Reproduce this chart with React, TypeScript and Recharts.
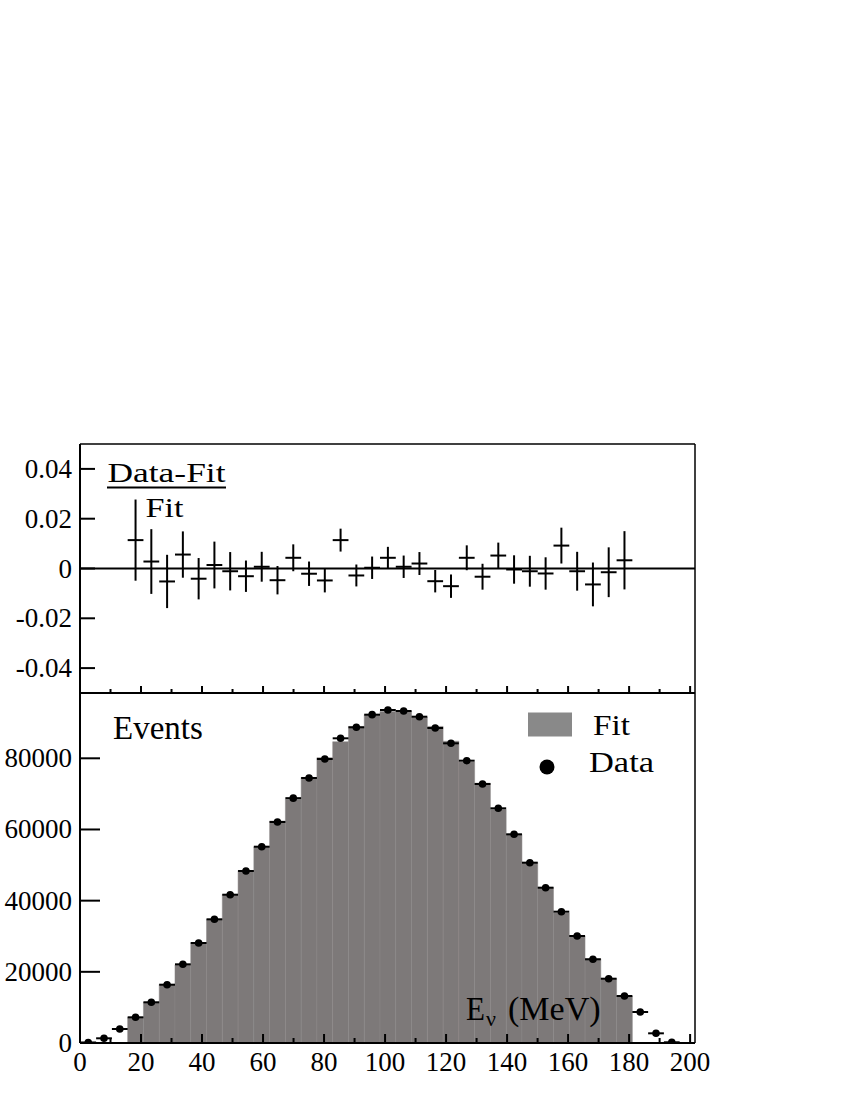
import React from 'react';
import {
  ComposedChart,
  XAxis,
  YAxis,
  Scatter,
  ErrorBar,
  ReferenceArea,
  ReferenceLine,
} from 'recharts';

// ---------- data ----------
// bin centres (MeV)
const binCenters = [
  2.7, 7.87, 13.04, 18.21, 23.38, 28.55, 33.72, 38.89, 44.06, 49.23,
  54.4, 59.57, 64.74, 69.91, 75.08, 80.25, 85.42, 90.59, 95.76, 100.93,
  106.1, 111.27, 116.44, 121.61, 126.78, 131.95, 137.12, 142.29, 147.46, 152.63,
  157.8, 162.97, 168.14, 173.31, 178.48, 183.65, 188.82, 193.99,
];
const BIN_HALF = 2.585;

// measured events per bin (Data)
const dataCounts = [
  150, 1320, 3930, 7220, 11440, 16380, 22110, 28100, 34760, 41670,
  48330, 55160, 62100, 68800, 74470, 79800, 85620, 88710, 92260, 93570,
  93290, 91690, 88520, 84210, 79330, 72780, 65950, 58640, 50670, 43640,
  36900, 30070, 23520, 18070, 13210, 8710, 2720, 200,
];

// fit histogram covers bins 3..34
const FIT_FIRST_BIN = 3;
const fitCounts = [
  7139, 11408, 16466, 21987, 28216, 34711, 41716, 48480, 55121, 62393,
  68505, 74627, 80185, 84655, 88959, 92232, 93169, 93225, 91507, 88969,
  84812, 78990, 73021, 65609, 58663, 50726, 43727, 36564, 30103, 23671,
  18097, 13167,
];

// (Data-Fit)/Fit residuals and their errors, bins 3..34
const residuals = [
  0.0114, 0.0028, -0.0052, 0.0056, -0.0041, 0.0014, -0.0011, -0.0031, 0.0007, -0.0047,
  0.0043, -0.0021, -0.0048, 0.0114, -0.0028, 0.0003, 0.0043, 0.0007, 0.002, -0.0051,
  -0.0071, 0.0043, -0.0033, 0.0052, -0.0004, -0.0011, -0.002, 0.0092, -0.0011, -0.0064,
  -0.0015, 0.0033,
];
const residualErrors = [
  0.0163, 0.013, 0.0107, 0.0093, 0.0083, 0.0094, 0.0077, 0.0063, 0.006, 0.0057,
  0.0054, 0.0049, 0.0048, 0.0046, 0.0044, 0.0045, 0.0044, 0.0045, 0.0046, 0.0045,
  0.0047, 0.005, 0.0052, 0.0052, 0.0057, 0.0062, 0.0065, 0.0072, 0.0078, 0.0088,
  0.01, 0.0117,
];

const xTicks = [0, 10, 20, 30, 40, 50, 60, 70, 80, 90, 100, 110, 120, 130, 140, 150, 160, 170, 180, 190, 200];
const residualTicks = [-0.04, -0.02, 0, 0.02, 0.04];
const countTicks = [0, 20000, 40000, 60000, 80000];

const X_MAX = 201.6;
const RES_MIN = -0.05;
const RES_MAX = 0.05;
const COUNT_MAX = 98350;

// ---------- derived tables ----------
const dataPoints = binCenters.map((x, i) => ({ x, y: dataCounts[i], xerr: BIN_HALF }));
const residualPoints = residuals.map((r, i) => ({
  x: binCenters[i + FIT_FIRST_BIN],
  y: r,
  xerr: BIN_HALF,
  yerr: residualErrors[i],
}));
const fitBins = fitCounts.map((v, i) => ({
  x1: binCenters[i + FIT_FIRST_BIN] - BIN_HALF,
  x2: binCenters[i + FIT_FIRST_BIN] + BIN_HALF,
  y: v,
}));

const FONT = "'Liberation Serif', 'Times New Roman', serif";
const TICK_FONT = 27;
const HIST_FILL = '#7d7979';
const LEGEND_FILL = '#898989';

// ---------- custom ticks ----------
const BottomXTick = (props: any) => {
  const { x, y, payload } = props;
  const v = payload.value;
  const major = v % 20 === 0;
  return (
    <g>
      <line x1={x} x2={x} y1={y} y2={y - (major ? 9 : 5)} stroke="#000" strokeWidth={2} />
      {major && (
        <text x={x} y={y + 28} textAnchor="middle" fontSize={TICK_FONT} fontFamily={FONT} fill="#000">
          {v}
        </text>
      )}
    </g>
  );
};

const TopXTick = (props: any) => {
  const { x, y, payload } = props;
  const v = payload.value;
  const major = v % 20 === 0;
  return <line x1={x} x2={x} y1={y} y2={y - (major ? 7 : 4)} stroke="#000" strokeWidth={2} />;
};

const makeLeftTick = (len: number) => (props: any) => {
  const { x, y, payload } = props;
  const v = payload.value;
  return (
    <g>
      <line x1={x} x2={x + len} y1={y} y2={y} stroke="#000" strokeWidth={2} />
      <text
        x={x - 8}
        y={y}
        textAnchor="end"
        dominantBaseline="central"
        fontSize={TICK_FONT}
        fontFamily={FONT}
        fill="#000"
      >
        {String(v)}
      </text>
    </g>
  );
};

const noShape = () => <g />;
const dotShape = (p: any) => <circle cx={p.cx} cy={p.cy} r={3.8} fill="#000" />;

export default function App() {
  return (
    <div style={{ position: 'absolute', left: 0, top: 0, width: 850, height: 1100, background: '#fff' }}>
      {/* bottom panel: Events */}
      <div style={{ position: 'absolute', left: 0, top: 0 }}>
        <ComposedChart
          width={850}
          height={1100}
          data={dataPoints}
          margin={{ top: 693, right: 155, bottom: 17, left: 0 }}
        >
          <XAxis
            dataKey="x"
            type="number"
            domain={[0, X_MAX]}
            allowDataOverflow
            ticks={xTicks}
            interval={0}
            height={40}
            tickSize={0}
            tickMargin={0}
            tickLine={false}
            axisLine={{ stroke: '#000', strokeWidth: 2 }}
            tick={BottomXTick}
          />
          <YAxis
            dataKey="y"
            type="number"
            domain={[0, COUNT_MAX]}
            allowDataOverflow
            ticks={countTicks}
            interval={0}
            width={80}
            tickSize={0}
            tickMargin={0}
            tickLine={false}
            axisLine={{ stroke: '#000', strokeWidth: 2 }}
            tick={makeLeftTick(20)}
          />
          {fitBins.map((b, i) => (
            <ReferenceArea
              key={i}
              x1={b.x1}
              x2={b.x2}
              y1={0}
              y2={b.y}
              fill={HIST_FILL}
              fillOpacity={1}
              stroke="#8a8686"
              strokeWidth={0.5}
              ifOverflow="visible"
            />
          ))}
          <ReferenceLine x={X_MAX} stroke="#000" strokeWidth={1.5} />
          <Scatter data={dataPoints} dataKey="y" isAnimationActive={false} shape={dotShape}>
            <ErrorBar dataKey="xerr" direction="x" width={0} stroke="#000" strokeWidth={2} />
          </Scatter>
        </ComposedChart>
      </div>

      {/* top panel: residuals */}
      <div style={{ position: 'absolute', left: 0, top: 0 }}>
        <ComposedChart
          width={850}
          height={700}
          data={residualPoints}
          margin={{ top: 444, right: 155, bottom: 0, left: 0 }}
        >
          <XAxis
            dataKey="x"
            type="number"
            domain={[0, X_MAX]}
            allowDataOverflow
            ticks={xTicks}
            interval={0}
            height={7}
            tickSize={0}
            tickMargin={0}
            tickLine={false}
            axisLine={{ stroke: '#000', strokeWidth: 2 }}
            tick={TopXTick}
          />
          <YAxis
            dataKey="y"
            type="number"
            domain={[RES_MIN, RES_MAX]}
            allowDataOverflow
            ticks={residualTicks}
            interval={0}
            width={80}
            tickSize={0}
            tickMargin={0}
            tickLine={false}
            axisLine={{ stroke: '#000', strokeWidth: 2 }}
            tick={makeLeftTick(15)}
          />
          <ReferenceLine y={0} stroke="#000" strokeWidth={2} />
          <ReferenceLine y={RES_MAX} stroke="#000" strokeWidth={1.5} />
          <ReferenceLine x={X_MAX} stroke="#000" strokeWidth={1.5} />
          <Scatter data={residualPoints} dataKey="y" isAnimationActive={false} shape={noShape}>
            <ErrorBar dataKey="yerr" direction="y" width={0} stroke="#000" strokeWidth={2} />
            <ErrorBar dataKey="xerr" direction="x" width={0} stroke="#000" strokeWidth={2} />
          </Scatter>
        </ComposedChart>
      </div>

      {/* annotations and legend */}
      <svg
        width={850}
        height={1100}
        style={{ position: 'absolute', left: 0, top: 0, pointerEvents: 'none' }}
        fontFamily={FONT}
      >
        <text x={107.5} y={481.7} fontSize={28} textLength={118} lengthAdjust="spacingAndGlyphs">
          Data-Fit
        </text>
        <line x1={107} x2={226} y1={487.5} y2={487.5} stroke="#000" strokeWidth={2} />
        <text x={145.5} y={517} fontSize={28} textLength={38} lengthAdjust="spacingAndGlyphs">
          Fit
        </text>

        <text x={113} y={739} fontSize={33}>
          Events
        </text>

        <rect x={528} y={712.5} width={44} height={24} fill={LEGEND_FILL} />
        <text x={593} y={735} fontSize={30} textLength={37} lengthAdjust="spacingAndGlyphs">
          Fit
        </text>
        <circle cx={547} cy={767} r={7.5} fill="#000" />
        <text x={589} y={771.7} fontSize={30} textLength={65} lengthAdjust="spacingAndGlyphs">
          Data
        </text>

        <text x={466} y={1019.5} fontSize={34} textLength={19} lengthAdjust="spacingAndGlyphs">
          E
        </text>
        <text x={486} y={1025.5} fontSize={22}>
          ν
        </text>
        <text x={508} y={1019.5} fontSize={34}>
          (MeV)
        </text>
      </svg>
    </div>
  );
}
